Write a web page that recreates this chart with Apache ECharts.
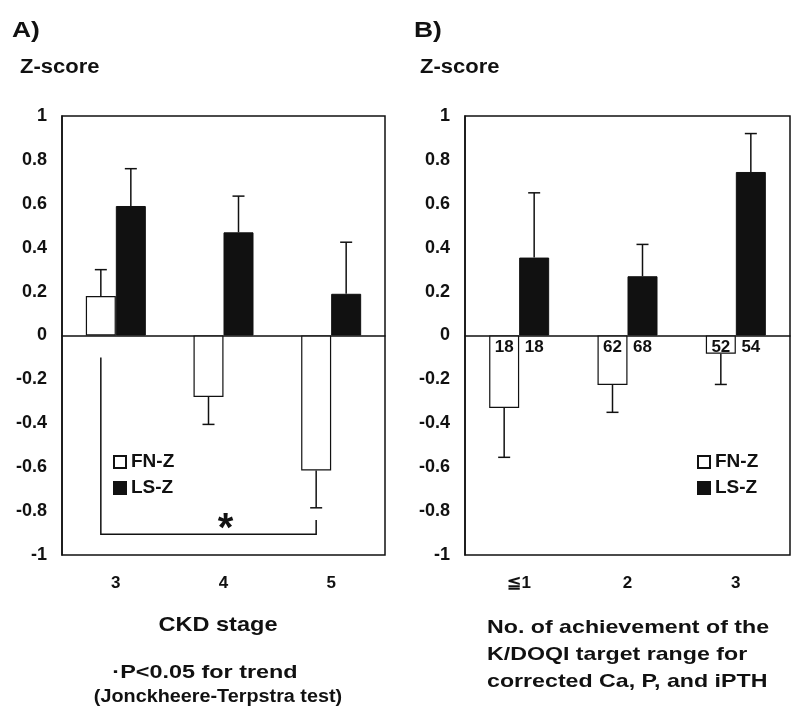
<!DOCTYPE html>
<html>
<head>
<meta charset="utf-8">
<script src="https://cdn.jsdelivr.net/npm/echarts@6/dist/echarts.min.js"></script>
<style>
  html, body { margin: 0; padding: 0; background: #fff; }
  #chart { width: 792px; height: 711px; }
</style>
</head>
<body>
<div id="chart"></div>
<script>
// panel A: CKD stage
var categoriesA = ['3', '4', '5'];
var fnA = [0.18, -0.28, -0.615];
var fnErrA = [0.12, 0.125, 0.17];
var lsA = [0.59, 0.47, 0.19];
var lsErrA = [0.17, 0.165, 0.235];
// trend bracket: from category, to category, top, bottom, right end
var bracketA = [0, 2, -0.10, -0.905, -0.84];

// panel B: no. of K/DOQI targets achieved
var categoriesB = ['≦1', '2', '3'];
var fnB = [-0.33, -0.225, -0.083];
var fnErrB = [0.225, 0.125, 0.14];
var lsB = [0.355, 0.27, 0.745];
var lsErrB = [0.295, 0.145, 0.175];
var fnCountB = [18, 62, 52];
var lsCountB = [18, 68, 54];

var FONT = '"Liberation Sans", Arial, sans-serif';
var INK = '#111';
var BAR_W = 30;
var CAP = 12;

var myChart = echarts.init(document.getElementById('chart'));

function errorSeries(gridIdx, values, errs, side) {
    return {
        type: 'custom',
        xAxisIndex: gridIdx * 2,
        yAxisIndex: gridIdx,
        silent: true,
        z: 3,
        encode: { x: 0, y: [1, 2] },
        data: values.map(function (v, i) {
            return [i, v, v < 0 ? v - errs[i] : v + errs[i]];
        }),
        renderItem: function (params, api) {
            var p0 = api.coord([api.value(0), api.value(1)]);
            var p1 = api.coord([api.value(0), api.value(2)]);
            var x = p0[0] + side * BAR_W / 2;
            var st = { stroke: INK, lineWidth: 1.5 };
            return {
                type: 'group',
                children: [
                    { type: 'line', shape: { x1: x, y1: p0[1], x2: x, y2: p1[1] }, style: st },
                    { type: 'line', shape: { x1: x - CAP / 2, y1: p1[1], x2: x + CAP / 2, y2: p1[1] }, style: st }
                ]
            };
        }
    };
}

function xAxes(gridIdx, cats) {
    return [{
        gridIndex: gridIdx,
        type: 'category',
        data: cats,
        position: 'bottom',
        axisLine: { show: false, onZero: false },
        axisTick: { show: false },
        axisLabel: { margin: 20, color: INK, fontFamily: FONT, fontWeight: 'bold', fontSize: 17 }
    }, {
        gridIndex: gridIdx,
        type: 'category',
        data: cats,
        position: 'bottom',
        axisLine: { onZero: true, lineStyle: { color: INK, width: 1.5 } },
        axisTick: { inside: true, length: 4, lineStyle: { color: INK, width: 1.5 } },
        axisLabel: { show: false }
    }];
}

function yAxis(gridIdx) {
    return {
        gridIndex: gridIdx,
        type: 'value',
        min: -1,
        max: 1,
        interval: 0.2,
        splitLine: { show: false },
        axisLine: { show: true, lineStyle: { color: INK, width: 1.5 } },
        axisTick: { inside: true, length: 4, lineStyle: { color: INK, width: 1.5 } },
        axisLabel: { margin: 15, color: INK, fontFamily: FONT, fontWeight: 'bold', fontSize: 18 }
    };
}

function bars(gridIdx, name, data, white, label) {
    var s = {
        name: name,
        type: 'bar',
        xAxisIndex: gridIdx * 2,
        yAxisIndex: gridIdx,
        data: data,
        barWidth: BAR_W,
        barGap: '0%',
        itemStyle: white
            ? { color: '#fff', borderColor: INK, borderWidth: 1.2 }
            : { color: INK, borderColor: INK, borderWidth: 1 }
    };
    if (label) s.label = label;
    return s;
}

function countLabel(counts, pos) {
    return {
        show: true,
        position: pos,
        distance: 3,
        color: INK,
        fontFamily: FONT,
        fontWeight: 'bold',
        fontSize: 17,
        formatter: function (p) { return String(counts[p.dataIndex]); }
    };
}

var bracketSeries = {
    type: 'custom',
    xAxisIndex: 0,
    yAxisIndex: 0,
    silent: true,
    z: 4,
    encode: { x: [0, 1], y: [2, 3, 4] },
    data: [bracketA],
    renderItem: function (params, api) {
        var tl = api.coord([api.value(0), api.value(2)]);
        var bl = api.coord([api.value(0), api.value(3)]);
        var br = api.coord([api.value(1), api.value(3)]);
        var tr = api.coord([api.value(1), api.value(4)]);
        var xl = tl[0] - BAR_W / 2;
        var xr = br[0] - BAR_W / 2;
        return {
            type: 'group',
            children: [{
                type: 'polyline',
                shape: { points: [[xl, tl[1]], [xl, bl[1]], [xr, bl[1]], [xr, tr[1]]] },
                style: { stroke: INK, lineWidth: 1.5, fill: null }
            }, {
                type: 'text',
                style: {
                    text: '*',
                    x: (xl + xr) / 2 + 17,
                    y: tr[1] + 10,
                    align: 'center',
                    verticalAlign: 'middle',
                    font: 'bold 40px ' + FONT,
                    fill: INK
                }
            }]
        };
    }
};

function legend(left) {
    return {
        left: left,
        top: 447,
        orient: 'vertical',
        itemWidth: 12,
        itemHeight: 12,
        itemGap: 6,
        icon: 'rect',
        selectedMode: false,
        data: ['FN-Z', 'LS-Z'],
        textStyle: { color: INK, fontFamily: FONT, fontWeight: 'bold', fontSize: 19, lineHeight: 20 }
    };
}

function txt(text, x, y, size, align, sx) {
    return {
        type: 'text',
        x: x,
        y: y,
        scaleX: sx || 1.15,
        style: {
            text: text,
            x: 0,
            y: 0,
            align: align || 'center',
            verticalAlign: 'middle',
            font: 'bold ' + size + 'px ' + FONT,
            fill: INK
        }
    };
}

var option = {
    backgroundColor: '#fff',
    animation: false,
    grid: [
        { left: 62, top: 116, width: 323, height: 439, show: true, borderColor: INK, borderWidth: 1.5 },
        { left: 465, top: 116, width: 325, height: 439, show: true, borderColor: INK, borderWidth: 1.5 }
    ],
    legend: [legend(108), legend(692)],
    xAxis: xAxes(0, categoriesA).concat(xAxes(1, categoriesB)),
    yAxis: [yAxis(0), yAxis(1)],
    series: [
        bars(0, 'FN-Z', fnA, true),
        bars(0, 'LS-Z', lsA, false),
        errorSeries(0, fnA, fnErrA, -1),
        errorSeries(0, lsA, lsErrA, 1),
        bracketSeries,
        bars(1, 'FN-Z', fnB, true, countLabel(fnCountB, 'insideTop')),
        bars(1, 'LS-Z', lsB, false, countLabel(lsCountB, 'bottom')),
        errorSeries(1, fnB, fnErrB, -1),
        errorSeries(1, lsB, lsErrB, 1)
    ],
    graphic: [
        txt('A)', 12, 31, 22, 'left', 1.2),
        txt('Z-score', 20, 67, 20, 'left', 1.1),
        txt('B)', 414, 31, 22, 'left', 1.2),
        txt('Z-score', 420, 67, 20, 'left', 1.1),
        txt('CKD stage', 218, 625, 21, 'center', 1.12),
        txt('\u00b7P<0.05 for trend', 205, 673, 18, 'center', 1.3),
        txt('(Jonckheere-Terpstra test)', 218, 697, 18, 'center', 1.1),
        txt('No. of achievement of the', 487, 628, 19, 'left', 1.22),
        txt('K/DOQI target range for', 487, 655, 19, 'left', 1.22),
        txt('corrected Ca, P, and iPTH', 487, 682, 19, 'left', 1.22)
    ]
};

myChart.setOption(option);
</script>
</body>
</html>
